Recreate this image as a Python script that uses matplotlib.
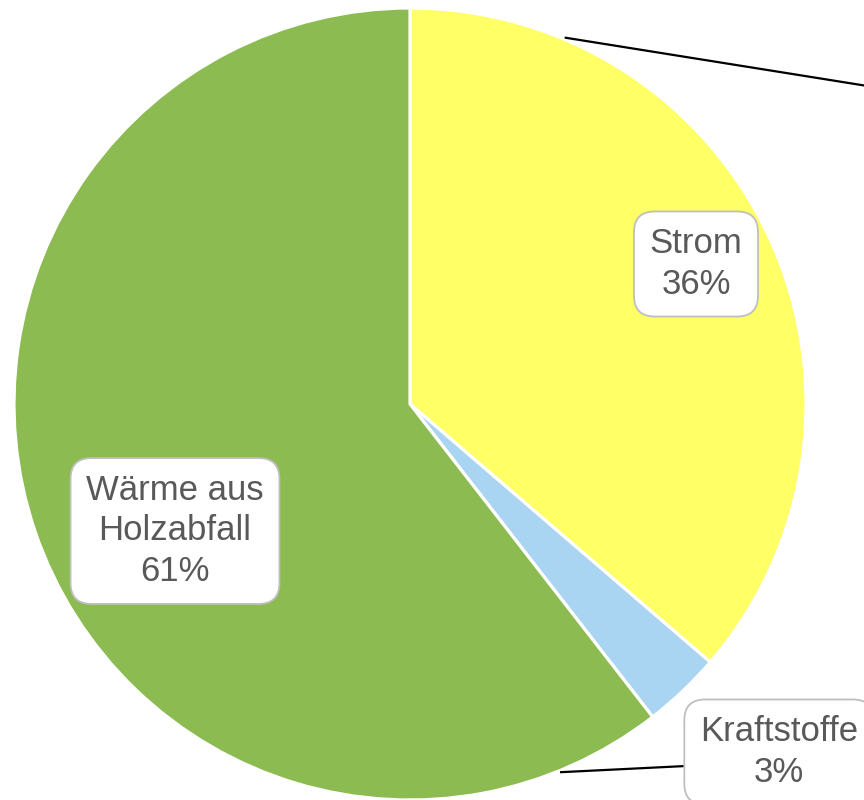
import numpy as np
import matplotlib
matplotlib.use("Agg")
import matplotlib.pyplot as plt

labels = ["Strom", "Kraftstoffe", "Wärme aus\nHolzabfall"]
shares = [36.3, 3.2, 60.5]
shown_pct = ["36%", "3%", "61%"]
colors = ["#FFFF66", "#A9D4F2", "#8BBB51"]

plt.rcParams["font.family"] = ["Liberation Sans", "DejaVu Sans"]

fig = plt.figure(figsize=(8.64, 8.0), dpi=100)
ax = fig.add_axes([0, 0, 1, 1])
ax.set_xlim(0, 864)
ax.set_ylim(0, 800)
ax.axis("off")

cx, cy, r = 410, 396, 396
ax.pie(shares, colors=colors, startangle=90, counterclock=False,
       center=(cx, cy), radius=r,
       wedgeprops=dict(edgecolor="white", linewidth=2.3))
ax.set_xlim(0, 864)
ax.set_ylim(0, 800)
ax.set_aspect("equal")

box = dict(boxstyle="round,pad=0.45,rounding_size=0.6", fc="white",
           ec="#BFBFBF", lw=1.3)
label_pos = [(696, 536), (779, 48), (175, 269)]
for lab, pct, (x, y) in zip(labels, shown_pct, label_pos):
    ax.text(x, y, f"{lab}\n{pct}", ha="center", va="center", fontsize=25,
            color="#595959", bbox=box, linespacing=1.3, clip_on=False)


def rim(frac):
    a = np.deg2rad(90 - 360 * frac)
    return cx + 1.005 * r * np.cos(a), cy + 1.005 * r * np.sin(a)


# connector lines towards the detail chart on the right
x0, y0 = rim(0.064)
ax.plot([x0, 880], [y0, 712], color="black", lw=1.6, clip_on=False)
x1, y1 = rim(0.438)
ax.plot([x1, 686], [y1, 34], color="black", lw=1.6, zorder=1)

fig.savefig("out.png", dpi=100)
